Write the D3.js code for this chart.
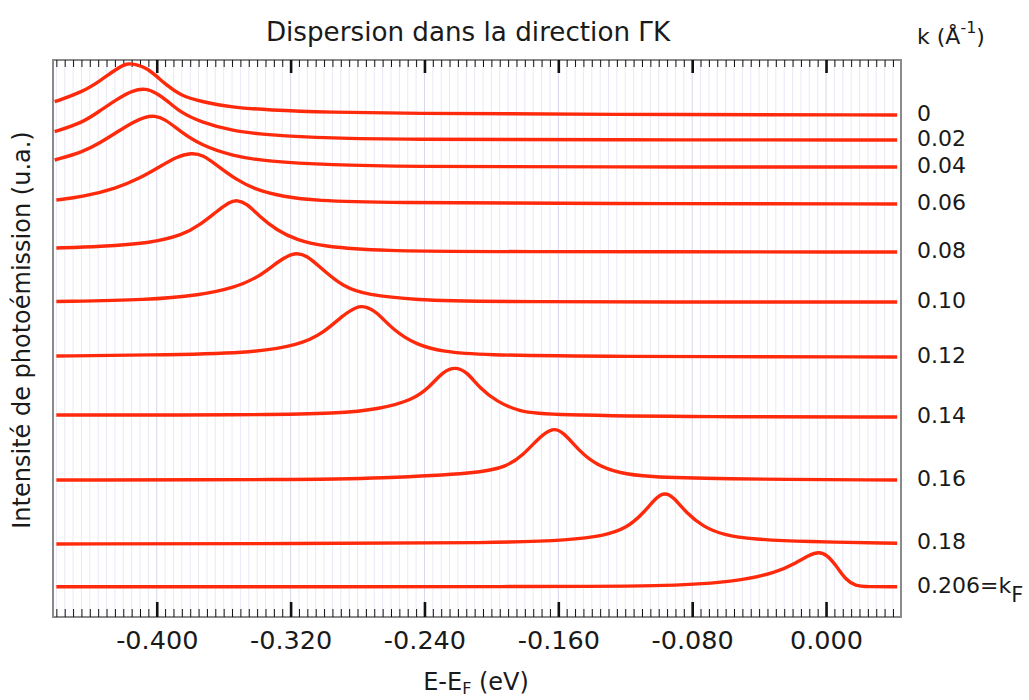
<!DOCTYPE html>
<html>
<head>
<meta charset="utf-8">
<script src="https://cdn.jsdelivr.net/npm/d3@7"></script>
<style>
  body { margin: 0; background: #fff; }
  text { font-family: "DejaVu Sans", sans-serif; fill: #1a1a1a; }
</style>
</head>
<body>
<script>
// photoemission spectra, one array per k value: [E - E_F (eV), intensity (u.a.)]
const s000 = [[-0.461,51.53],[-0.4441,52.53],[-0.4341,53.6],[-0.4241,54.8],[-0.4181,55.4],[-0.4121,55.25],[-0.4062,54.9],[-0.4002,54.1],[-0.3942,53.2],[-0.3862,52.2],[-0.3739,51.53],[-0.3546,50.97],[-0.3342,50.7],[-0.2947,50.47],[-0.2547,50.37],[-0.1351,50.25],[0.0425,50.2]];
const s002 = [[-0.461,48.53],[-0.4441,49.45],[-0.4341,50.6],[-0.4241,51.75],[-0.4142,52.7],[-0.4062,52.87],[-0.4002,52.37],[-0.3942,51.7],[-0.3862,50.5],[-0.3739,49.5],[-0.3546,48.6],[-0.3342,48.2],[-0.2947,47.87],[-0.2547,47.77],[-0.1351,47.72],[0.0425,47.7]];
const s004 = [[-0.461,45.7],[-0.4441,46.5],[-0.4341,47.4],[-0.4241,48.45],[-0.4142,49.5],[-0.4072,50.0],[-0.4012,50.15],[-0.3952,49.8],[-0.3862,48.6],[-0.3739,47.2],[-0.3546,46.1],[-0.3342,45.55],[-0.2947,45.2],[-0.2547,45.05],[-0.1351,45.0],[0.0425,45.0]];
const s006 = [[-0.460,41.7],[-0.4441,42.03],[-0.4241,42.87],[-0.4102,43.87],[-0.3982,45.03],[-0.3882,46.03],[-0.3793,46.43],[-0.3723,46.2],[-0.3643,45.2],[-0.3523,43.7],[-0.3404,42.7],[-0.3245,42.03],[-0.3045,41.63],[-0.2667,41.43],[-0.1351,41.35],[0.0425,41.3]];
const s008 = [[-0.460,36.9],[-0.4339,37.05],[-0.4042,37.37],[-0.3843,38.2],[-0.3743,39.2],[-0.3643,40.53],[-0.3563,41.53],[-0.352,41.7],[-0.3464,41.37],[-0.3384,40.03],[-0.3284,38.7],[-0.3165,37.7],[-0.3006,37.03],[-0.2647,36.6],[-0.2069,36.53],[0.0425,36.5]];
const s010 = [[-0.460,31.55],[-0.4042,31.7],[-0.3743,32.2],[-0.3544,32.87],[-0.3384,34.03],[-0.3265,35.7],[-0.3175,36.47],[-0.3105,36.2],[-0.3006,34.7],[-0.2886,33.03],[-0.2746,32.2],[-0.2447,31.7],[-0.2069,31.5],[0.0425,31.5]];
const s012 = [[-0.460,26.1],[-0.4042,26.2],[-0.3444,26.37],[-0.3145,27.2],[-0.3006,28.37],[-0.2886,30.2],[-0.2806,31.03],[-0.2756,31.1],[-0.2686,30.53],[-0.2587,28.7],[-0.2447,27.2],[-0.2288,26.53],[-0.2069,26.2],[-0.1351,26.05],[0.0425,26.0]];
const s014 = [[-0.460,20.2],[-0.3444,20.2],[-0.2906,20.35],[-0.2667,20.8],[-0.2469,21.7],[-0.2368,23.03],[-0.229,24.53],[-0.2218,25.03],[-0.2146,24.53],[-0.2069,22.87],[-0.1967,21.53],[-0.183,20.53],[-0.1668,20.2],[-0.0694,20.0],[0.0425,20.0]];
const s016 = [[-0.460,13.7],[-0.3145,13.73],[-0.2667,13.87],[-0.2069,14.37],[-0.1909,15.03],[-0.181,16.2],[-0.171,18.03],[-0.1634,18.93],[-0.1571,18.53],[-0.1471,16.53],[-0.1371,15.2],[-0.1232,14.37],[-0.1072,14.03],[-0.0694,13.8],[0.0425,13.7]];
const s018 = [[-0.460,7.3],[-0.3145,7.35],[-0.1949,7.4],[-0.1531,7.7],[-0.1332,8.1],[-0.1192,8.87],[-0.1092,10.37],[-0.1012,12.03],[-0.0963,12.43],[-0.0913,12.03],[-0.0833,10.37],[-0.0734,9.03],[-0.0614,8.2],[-0.0435,7.77],[-0.0136,7.53],[0.0425,7.37]];
const s206 = [[-0.460,3.03],[-0.1531,3.03],[-0.0933,3.1],[-0.0534,3.53],[-0.0295,4.45],[-0.0175,5.45],[-0.0102,6.2],[-0.0042,6.53],[0.0006,6.2],[0.0058,5.2],[0.0118,3.7],[0.0178,3.1],[0.0239,3.03],[0.0425,3.03]];

const spectra = [s000, s002, s004, s006, s008, s010, s012, s014, s016, s018, s206];
const kLabels = ["0", "0.02", "0.04", "0.06", "0.08", "0.10", "0.12", "0.14", "0.16", "0.18", "0.206=k"];
const xTickValues = [-0.400, -0.320, -0.240, -0.160, -0.080, 0.000];

const width = 1029, height = 700;
const margin = {top: 60, right: 128, bottom: 83, left: 53};

const x = d3.scaleLinear()
    .domain([-0.462, 0.0448])
    .range([margin.left, width - margin.right]);
const y = d3.scaleLinear()
    .domain([0, 55.7])
    .range([height - margin.bottom, margin.top]);

const fmt = d => d3.format(".3f")(d).replace("−", "-");

const svg = d3.select("body").append("svg")
    .attr("width", width)
    .attr("height", height);

// light vertical grid on every minor tick
svg.append("g")
  .selectAll("line")
  .data(x.ticks(100))
  .join("line")
    .attr("x1", d => x(d)).attr("x2", d => x(d))
    .attr("y1", margin.top).attr("y2", height - margin.bottom)
    .attr("stroke", (d, i) => i % 16 === 12 ? "#d6d6ef" : "#e9e9f7")
    .attr("stroke-width", 1);

// frame
svg.append("rect")
    .attr("x", margin.left).attr("y", margin.top)
    .attr("width", x.range()[1] - margin.left)
    .attr("height", y.range()[0] - margin.top)
    .attr("fill", "none")
    .attr("stroke", "#8a8a8a")
    .attr("stroke-width", 2);

// ticks, bottom and top, pointing inward
function ticks(g, axis) {
  g.call(axis);
  g.select(".domain").remove();
  g.selectAll(".tick line").attr("stroke", "#111");
}
svg.append("g")
    .attr("transform", `translate(0,${height - margin.bottom})`)
    .call(g => ticks(g, d3.axisBottom(x).ticks(100).tickSize(-8).tickFormat("")))
    .selectAll(".tick line").attr("stroke-width", 1);
svg.append("g")
    .attr("transform", `translate(0,${margin.top})`)
    .call(g => ticks(g, d3.axisTop(x).ticks(100).tickSize(-7).tickFormat("")))
    .selectAll(".tick line").attr("stroke-width", 1);

const xb = svg.append("g")
    .attr("transform", `translate(0,${height - margin.bottom})`)
    .call(g => ticks(g, d3.axisBottom(x).tickValues(xTickValues).tickSize(-15).tickPadding(14).tickFormat(fmt)));
xb.selectAll(".tick line").attr("stroke-width", 2.6);
xb.selectAll(".tick text")
    .attr("font-family", "DejaVu Sans")
    .attr("font-size", 25.5)
    .attr("fill", "#222");

svg.append("g")
    .attr("transform", `translate(0,${margin.top})`)
    .call(g => ticks(g, d3.axisTop(x).tickValues(xTickValues).tickSize(-13).tickFormat("")))
    .selectAll(".tick line").attr("stroke-width", 2.6);

// spectra
const line = d3.line()
    .x(d => x(d[0]))
    .y(d => y(d[1]))
    .curve(d3.curveBasis);

svg.append("g")
    .attr("fill", "none")
    .attr("stroke", "#ff2a0c")
    .attr("stroke-width", 3.4)
    .attr("stroke-linejoin", "round")
  .selectAll("path")
  .data(spectra)
  .join("path")
    .attr("d", line);

// k labels at the right end of each spectrum
const lab = svg.append("g")
    .attr("font-size", 22)
  .selectAll("text")
  .data(spectra)
  .join("text")
    .attr("x", 917)
    .attr("y", d => y(d[d.length - 1][1]) + 6)
    .text((d, i) => kLabels[i]);
lab.filter((d, i) => i === spectra.length - 1)
  .append("tspan")
    .attr("font-size", 21)
    .attr("dy", 9)
    .text("F");

// title and axis titles
svg.append("text")
    .attr("x", 468)
    .attr("y", 41)
    .attr("text-anchor", "middle")
    .attr("font-size", 26.2)
    .text("Dispersion dans la direction ΓK");

const kt = svg.append("text")
    .attr("x", 917)
    .attr("y", 44)
    .attr("font-size", 22)
    .text("k (Å");
kt.append("tspan").attr("font-size", 16).attr("dy", -11).text("-1");
kt.append("tspan").attr("dy", 11).text(")");

svg.append("text")
    .attr("transform", "translate(30,330) rotate(-90)")
    .attr("text-anchor", "middle")
    .attr("font-size", 24)
    .attr("fill", "#333")
    .text("Intensité de photoémission (u.a.)");

const xt = svg.append("text")
    .attr("x", 476)
    .attr("y", 690)
    .attr("text-anchor", "middle")
    .attr("font-size", 24)
    .attr("fill", "#333")
    .text("E-E");
xt.append("tspan").attr("font-size", 16).attr("dy", 4).text("F");
xt.append("tspan").attr("dy", -4).text(" (eV)");
</script>
</body>
</html>
